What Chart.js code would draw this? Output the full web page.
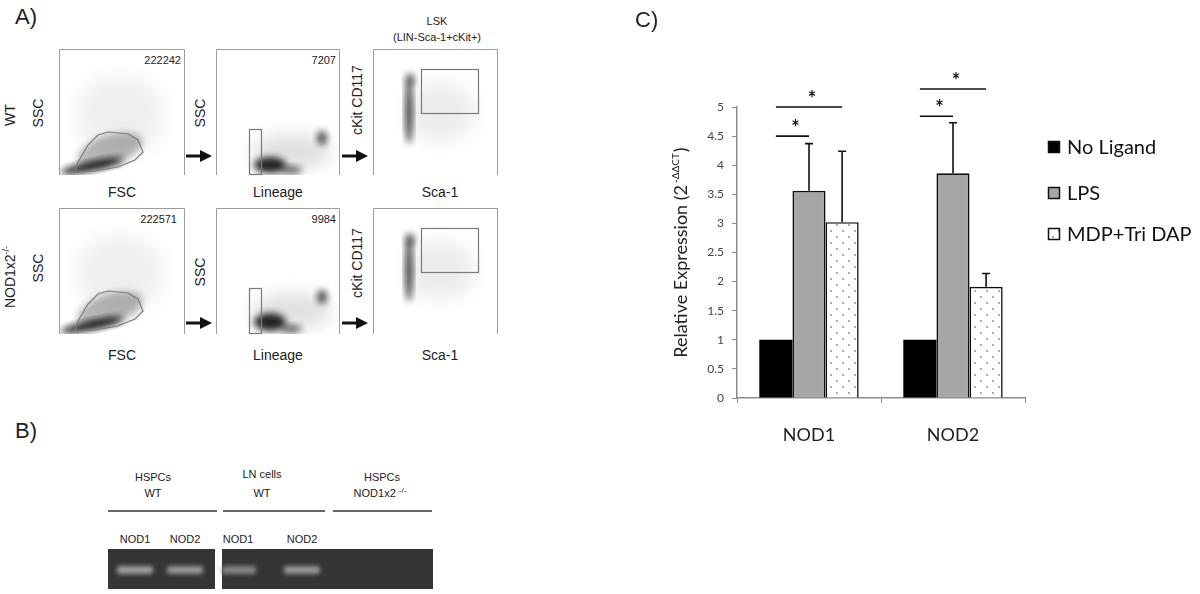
<!DOCTYPE html>
<html>
<head>
<meta charset="utf-8">
<script src="https://cdn.jsdelivr.net/npm/chart.js@4.4.0/dist/chart.umd.min.js"></script>
<style>
  body { margin: 0; background: #fff; }
  #wrap { position: relative; width: 1200px; height: 594px; overflow: hidden; }
  #panels { position: absolute; left: 0; top: 0; }
  #chartBox { position: absolute; left: 660px; top: 0; width: 540px; height: 470px; }
  svg text { font-family: "Liberation Sans", Arial, sans-serif; fill: #222; }
</style>
</head>
<body>
<div id="wrap">
<svg id="panels" width="660" height="594" viewBox="0 0 660 594">
  <defs>
    <filter id="soft" x="-50%" y="-50%" width="200%" height="200%"><feGaussianBlur stdDeviation="3.5"/></filter>
    <filter id="softer" x="-50%" y="-50%" width="200%" height="200%"><feGaussianBlur stdDeviation="9"/></filter>
    <filter id="band" x="-50%" y="-100%" width="200%" height="300%"><feGaussianBlur stdDeviation="2.2"/></filter>
    <clipPath id="c11"><rect x="59" y="49" width="126" height="126"/></clipPath>
    <clipPath id="c12"><rect x="216" y="49" width="124" height="126"/></clipPath>
    <clipPath id="c13"><rect x="373" y="49" width="125" height="126"/></clipPath>
    <clipPath id="c21"><rect x="59" y="208" width="126" height="126"/></clipPath>
    <clipPath id="c22"><rect x="216" y="208" width="124" height="126"/></clipPath>
    <clipPath id="c23"><rect x="373" y="208" width="125" height="126"/></clipPath>
    <marker id="arr" markerWidth="4" markerHeight="4" refX="2" refY="2" orient="auto">
      <path d="M0,0 L4,2 L0,4 z" fill="#111"/>
    </marker>
  </defs>

  <!-- A) flow panels -->
  <text x="15" y="24" style="font-size:22px">A)</text>
  <text x="437" y="25" text-anchor="middle" style="font-size:11px">LSK</text>
  <text x="437" y="41" text-anchor="middle" style="font-size:11px">(LIN-Sca-1+cKit+)</text>

  <!-- row 1 density -->
  <g clip-path="url(#c11)">
    <ellipse cx="120" cy="115" rx="45" ry="40" fill="#000" opacity="0.06" filter="url(#softer)"/>
    <ellipse cx="110" cy="150" rx="34" ry="15" fill="#000" opacity="0.28" transform="rotate(-18 110 150)" filter="url(#soft)"/>
    <ellipse cx="92" cy="166" rx="32" ry="4.5" fill="#000" opacity="0.9" transform="rotate(-12 92 166)" filter="url(#soft)"/>
  </g>
  <g clip-path="url(#c12)">
    <ellipse cx="292" cy="152" rx="40" ry="18" fill="#000" opacity="0.12" filter="url(#softer)"/>
    <ellipse cx="270" cy="165" rx="16" ry="8" fill="#000" opacity="0.85" filter="url(#soft)"/>
    <ellipse cx="291" cy="170" rx="11" ry="4" fill="#000" opacity="0.6" filter="url(#soft)"/>
    <ellipse cx="322" cy="138" rx="5" ry="7" fill="#000" opacity="0.7" filter="url(#soft)"/>
  </g>
  <g clip-path="url(#c13)">
    <ellipse cx="440" cy="112" rx="36" ry="30" fill="#000" opacity="0.07" filter="url(#softer)"/>
    <ellipse cx="409" cy="112" rx="3.5" ry="32" fill="#000" opacity="0.8" filter="url(#soft)"/>
    <ellipse cx="410" cy="80" rx="4.5" ry="7" fill="#000" opacity="0.6" filter="url(#soft)"/>
  </g>
  <!-- row 2 density -->
  <g clip-path="url(#c21)">
    <ellipse cx="120" cy="274" rx="45" ry="40" fill="#000" opacity="0.06" filter="url(#softer)"/>
    <ellipse cx="110" cy="309" rx="34" ry="15" fill="#000" opacity="0.28" transform="rotate(-18 110 309)" filter="url(#soft)"/>
    <ellipse cx="92" cy="325" rx="32" ry="4.5" fill="#000" opacity="0.9" transform="rotate(-12 92 325)" filter="url(#soft)"/>
  </g>
  <g clip-path="url(#c22)">
    <ellipse cx="292" cy="311" rx="40" ry="18" fill="#000" opacity="0.12" filter="url(#softer)"/>
    <ellipse cx="270" cy="322" rx="16" ry="9" fill="#000" opacity="0.85" filter="url(#soft)"/>
    <ellipse cx="291" cy="329" rx="11" ry="4" fill="#000" opacity="0.6" filter="url(#soft)"/>
    <ellipse cx="322" cy="297" rx="5" ry="7" fill="#000" opacity="0.7" filter="url(#soft)"/>
  </g>
  <g clip-path="url(#c23)">
    <ellipse cx="440" cy="270" rx="36" ry="30" fill="#000" opacity="0.07" filter="url(#softer)"/>
    <ellipse cx="409" cy="270" rx="3.5" ry="32" fill="#000" opacity="0.8" filter="url(#soft)"/>
    <ellipse cx="410" cy="240" rx="4.5" ry="7" fill="#000" opacity="0.6" filter="url(#soft)"/>
  </g>

  <!-- frames -->
  <g fill="none" stroke="#9c9c9c" stroke-width="1">
    <path d="M59.5 175 V49.5 H184.5 V175"/>
    <path d="M216.5 175 V49.5 H339.5 V175"/>
    <path d="M373.5 175 V49.5 H497.5 V175"/>
    <path d="M59.5 334 V208.5 H184.5 V334"/>
    <path d="M216.5 334 V208.5 H339.5 V334"/>
    <path d="M373.5 334 V208.5 H497.5 V334"/>
  </g>
  <!-- gates -->
  <g fill="none" stroke="#7a7a7a" stroke-width="1.2">
    <path d="M75 172 L78 162 L88 145 L98 135 L108 132 L128 134 L138 140 L143 152 L135 160 L118 167 L95 171 Z"/>
    <path d="M75 331 L78 321 L88 304 L98 294 L108 291 L128 293 L138 299 L143 311 L135 319 L118 326 L95 330 Z"/>
    <rect x="249.5" y="129.5" width="12" height="45"/>
    <rect x="249.5" y="288.5" width="12" height="45"/>
    <rect x="421.5" y="69.5" width="57" height="44"/>
    <rect x="421.5" y="228.5" width="57" height="44"/>
  </g>
  <!-- arrows -->
  <g stroke="#111" stroke-width="3" marker-end="url(#arr)">
    <line x1="186" y1="156" x2="206" y2="156"/>
    <line x1="342" y1="156" x2="362" y2="156"/>
    <line x1="186" y1="323" x2="206" y2="323"/>
    <line x1="342" y1="323" x2="362" y2="323"/>
  </g>
  <!-- gate counts -->
  <g style="font-size:11px" text-anchor="end">
    <text x="181" y="64">222242</text>
    <text x="336" y="64">7207</text>
    <text x="177" y="223">222571</text>
    <text x="336" y="223">9984</text>
  </g>
  <!-- axis labels -->
  <g style="font-size:14px" text-anchor="middle">
    <text x="122" y="197">FSC</text>
    <text x="278" y="197">Lineage</text>
    <text x="440" y="197">Sca-1</text>
    <text x="122" y="360">FSC</text>
    <text x="278" y="360">Lineage</text>
    <text x="440" y="360">Sca-1</text>
    <text transform="translate(15,115) rotate(-90)">WT</text>
    <text transform="translate(43,113) rotate(-90)">SSC</text>
    <text transform="translate(15,277) rotate(-90)">NOD1x2<tspan dy="-6" style="font-size:9px">-/-</tspan></text>
    <text transform="translate(43,268) rotate(-90)">SSC</text>
    <text transform="translate(205,113) rotate(-90)">SSC</text>
    <text transform="translate(205,272) rotate(-90)">SSC</text>
    <text transform="translate(362,100) rotate(-90)">cKit CD117</text>
    <text transform="translate(362,263) rotate(-90)">cKit CD117</text>
  </g>

  <!-- B) gel -->
  <text x="15" y="438" style="font-size:22px">B)</text>
  <g style="font-size:11px" text-anchor="middle">
    <text x="153" y="481">HSPCs</text>
    <text x="153" y="497">WT</text>
    <text x="262" y="478">LN cells</text>
    <text x="262" y="497">WT</text>
    <text x="382" y="481">HSPCs</text>
    <text x="380" y="497">NOD1x2 <tspan dy="-4" style="font-size:8px">-/-</tspan></text>
    <text x="135" y="543">NOD1</text>
    <text x="185" y="543">NOD2</text>
    <text x="238" y="543">NOD1</text>
    <text x="302" y="543">NOD2</text>
  </g>
  <g stroke="#333" stroke-width="1.5">
    <line x1="108" y1="511" x2="217" y2="511"/>
    <line x1="223" y1="511" x2="325" y2="511"/>
    <line x1="333" y1="511" x2="432" y2="511"/>
  </g>
  <rect x="108" y="549" width="107" height="40" fill="#353535"/>
  <rect x="222" y="549" width="211" height="40" fill="#353535"/>
  <g filter="url(#band)">
    <rect x="117" y="566" width="36" height="8" rx="3" fill="#9c9c9c"/>
    <rect x="167" y="566" width="36" height="8" rx="3" fill="#959595"/>
    <rect x="222" y="566" width="34" height="8" rx="3" fill="#858585"/>
    <rect x="284" y="566" width="36" height="8" rx="3" fill="#959595"/>
  </g>
</svg>

<div id="chartBox"><canvas id="myChart" width="540" height="470"></canvas></div>
<svg style="position:absolute;left:0;top:0" width="700" height="40"><text x="635" y="27" style="font-family:'Liberation Sans',Arial,sans-serif;font-size:22px;fill:#222">C)</text></svg>
</div>

<script>
// Données du graphique C
const categories = ['NOD1', 'NOD2'];
const seriesNames = ['No Ligand', 'LPS', 'MDP+Tri DAP'];
const noLigand = [1.0, 1.0];
const lps = [3.56, 3.86];
const mdpTriDap = [3.02, 1.91];
const noLigandErr = [0, 0];
const lpsErr = [0.81, 0.87];
const mdpTriDapErr = [1.22, 0.23];
const yTicks = [0, 0.5, 1, 1.5, 2, 2.5, 3, 3.5, 4, 4.5, 5];
// lignes de significativité : catégorie, barre de départ, barre d'arrivée, hauteur
const sigCat = [0, 0, 1, 1];
const sigFrom = [0, 0, 0, 0];
const sigTo = [1, 2, 1, 2];
const sigLevel = [4.5, 5.0, 4.84, 5.31];
const sigLabel = ['*', '*', '*', '*'];

document.addEventListener("DOMContentLoaded", function () {
    // motif pointillé pour MDP+Tri DAP
    const pc = document.createElement('canvas');
    pc.width = 12; pc.height = 12;
    const p = pc.getContext('2d');
    p.fillStyle = '#fff';
    p.fillRect(0, 0, 12, 12);
    p.fillStyle = '#9a9a9a';
    p.beginPath(); p.arc(3, 3, 1.1, 0, Math.PI * 2); p.fill();
    p.beginPath(); p.arc(9, 9, 1.1, 0, Math.PI * 2); p.fill();
    const dots = document.getElementById('myChart').getContext('2d').createPattern(pc, 'repeat');

    const font = 'Lato, "Open Sans", sans-serif';
    const axisGray = '#8c8c8c';

    const errorBars = {
        id: 'errorBars',
        afterDatasetsDraw(chart) {
            const ctx = chart.ctx, y = chart.scales.y;
            ctx.save();
            ctx.strokeStyle = '#111';
            ctx.lineWidth = 1.6;
            chart.data.datasets.forEach((ds, i) => {
                const meta = chart.getDatasetMeta(i);
                meta.data.forEach((bar, j) => {
                    const e = ds.errors[j];
                    if (!e) return;
                    const yt = y.getPixelForValue(ds.data[j] + e);
                    ctx.beginPath();
                    ctx.moveTo(bar.x, bar.y);
                    ctx.lineTo(bar.x, yt);
                    ctx.moveTo(bar.x - 4, yt);
                    ctx.lineTo(bar.x + 4, yt);
                    ctx.stroke();
                });
            });
            // étoiles
            ctx.fillStyle = '#111';
            ctx.font = 'bold 20px ' + font;
            ctx.textAlign = 'center';
            ctx.textBaseline = 'alphabetic';
            sigLevel.forEach((lv, k) => {
                const a = chart.getDatasetMeta(sigFrom[k]).data[sigCat[k]];
                const b = chart.getDatasetMeta(sigTo[k]).data[sigCat[k]];
                const yy = y.getPixelForValue(lv);
                ctx.beginPath();
                ctx.moveTo(a.x, yy);
                ctx.lineTo(b.x, yy);
                ctx.stroke();
                ctx.fillText(sigLabel[k], (a.x + b.x) / 2 + 3, yy - 1);
            });
            ctx.restore();
        }
    };

    const yTitle = {
        id: 'yTitle',
        afterDraw(chart) {
            const ctx = chart.ctx, a = chart.chartArea;
            const main = 'Relative Expression (2', sup = '-ΔΔCT', end = ')';
            ctx.save();
            ctx.fillStyle = '#222';
            ctx.textBaseline = 'alphabetic';
            ctx.font = '18px ' + font;
            const w1 = ctx.measureText(main).width, w3 = ctx.measureText(end).width;
            ctx.font = '10px ' + font;
            const w2 = ctx.measureText(sup).width + 3;
            const total = w1 + w2 + w3;
            ctx.translate(27, (a.top + a.bottom) / 2);
            ctx.rotate(-Math.PI / 2);
            let x = -total / 2;
            ctx.font = '18px ' + font;
            ctx.fillText(main, x, 0); x += w1 + 2;
            ctx.font = '10px ' + font;
            ctx.fillText(sup, x, -8); x += w2 - 2;
            ctx.font = '18px ' + font;
            ctx.fillText(end, x, 0);
            ctx.restore();
        }
    };

    const sideLegend = {
        id: 'sideLegend',
        afterDraw(chart) {
            const ctx = chart.ctx, a = chart.chartArea;
            ctx.save();
            ctx.font = '20px ' + font;
            ctx.textBaseline = 'middle';
            const rows = [a.top + 40, a.top + 86, a.top + 127];
            chart.data.datasets.forEach((ds, i) => {
                const bx = a.right + 23, by = rows[i] - 6;
                ctx.fillStyle = ds.backgroundColor;
                ctx.fillRect(bx, by, 12, 12);
                ctx.strokeStyle = '#111';
                ctx.lineWidth = 1.5;
                ctx.strokeRect(bx + 0.5, by + 0.5, 11, 11);
                ctx.fillStyle = '#111';
                ctx.fillText(ds.label, a.right + 42, rows[i] + 1);
            });
            ctx.restore();
        }
    };

    const ctx = document.getElementById('myChart').getContext('2d');
    const myChart = new Chart(ctx, {
        type: 'bar',
        data: {
            labels: categories,
            datasets: [{
                label: seriesNames[0],
                data: noLigand,
                errors: noLigandErr,
                backgroundColor: '#000',
                borderColor: '#000',
                borderWidth: 0
            }, {
                label: seriesNames[1],
                data: lps,
                errors: lpsErr,
                backgroundColor: '#a6a6a6',
                borderColor: '#111',
                borderWidth: 1.6
            }, {
                label: seriesNames[2],
                data: mdpTriDap,
                errors: mdpTriDapErr,
                backgroundColor: dots,
                borderColor: '#111',
                borderWidth: 1.6
            }]
        },
        options: {
            responsive: false,
            animation: false,
            layout: { padding: { top: 107, right: 175, left: 0, bottom: 0 } },
            categoryPercentage: 0.69,
            barPercentage: 1.0,
            plugins: { legend: { display: false }, tooltip: { enabled: false } },
            scales: {
                x: {
                    offset: true,
                    grid: { drawOnChartArea: false, tickLength: 5, color: axisGray },
                    border: { color: axisGray, width: 1.5 },
                    ticks: { color: '#222', padding: 21, font: { family: font, size: 18 } },
                    afterFit: s => { s.height = 72; }
                },
                y: {
                    min: 0,
                    max: 5,
                    afterBuildTicks: s => { s.ticks = yTicks.map(v => ({ value: v })); },
                    grid: { drawOnChartArea: false, tickLength: 5, color: axisGray },
                    border: { color: axisGray, width: 1.5 },
                    ticks: { color: '#444', padding: 8, font: { family: font, size: 12 }, callback: v => String(v) },
                    afterFit: s => { s.width = 77; }
                }
            }
        },
        plugins: [errorBars, yTitle, sideLegend]
    });
});
</script>
</body>
</html>
